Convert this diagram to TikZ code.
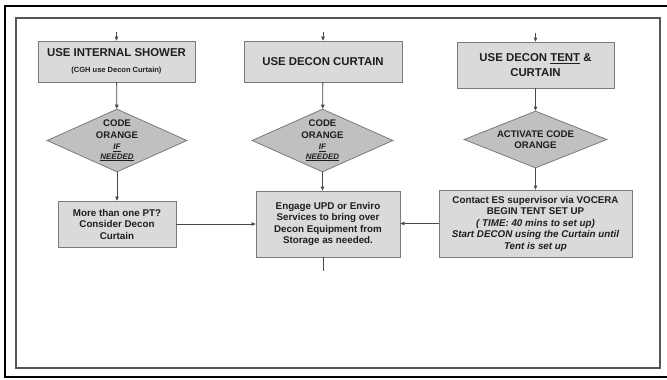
\documentclass[tikz,border=0pt]{standalone}
\usepackage{fontspec}
\setmainfont{Liberation Sans}
\usetikzlibrary{shapes.geometric,arrows.meta}
\definecolor{boxgray}{HTML}{DADADA}
\definecolor{diagray}{HTML}{C0C0C0}
\definecolor{edgegray}{HTML}{7A7A7A}
\definecolor{linegray}{HTML}{4A4A4A}
\definecolor{framegray}{HTML}{555555}
\definecolor{textdark}{HTML}{1E1E1E}
\newcommand\ifneeded[1]{{\bfseries\itshape\fontsize{8}{11.5}\selectfont\underline{#1}}}
\begin{document}
\begin{tikzpicture}[x=1pt,y=-1pt,
  box/.style={draw=edgegray, fill=boxgray, line width=0.8pt, align=center, inner sep=1pt,
    text=textdark, font=\bfseries\fontsize{9.8}{11.5}\selectfont},
  headbox/.style={box, font=\bfseries\fontsize{11.4}{15}\selectfont},
  decision/.style={diamond, draw=edgegray, fill=diagray, line width=0.8pt, align=center,
    inner sep=0pt, text=textdark, font=\bfseries\fontsize{9.6}{11.5}\selectfont},
  flow/.style={draw=linegray, line width=0.8pt, -{Triangle[length=4pt,width=3.6pt]}}]
  \useasboundingbox (0,0) rectangle (667,380);
  % Draw outer and inner frames
  \draw[line width=2.4pt] (5,6) rectangle (672,377);
  \draw[framegray, line width=1.2pt] (16,18) rectangle (660,368);
  % Draw the three heading boxes
  \node[headbox, minimum width=157, minimum height=41] (shower) at (116.5,61.5)
    {USE INTERNAL SHOWER\\[1pt]{\fontsize{7.5}{9}\selectfont (CGH use Decon Curtain)}};
  \node[headbox, minimum width=158, minimum height=41] (curtain) at (323,61.5) {USE DECON CURTAIN};
  \node[headbox, minimum width=157, minimum height=46] (tent) at (535.5,65)
    {USE DECON \underline{TENT} \&\\CURTAIN};
  \coordinate (in1) at (116.5,32);
  \coordinate (in2) at (323,32);
  \coordinate (in3) at (535.5,33);
  % Draw the decisions
  \node[decision, aspect=2.3, minimum width=140, minimum height=63] (orange1) at (117,140.5)
    {CODE\\ORANGE\\\ifneeded{IF}\\[-2pt]\ifneeded{NEEDED}};
  \node[decision, aspect=2.3, minimum width=141, minimum height=63] (orange2) at (322.5,140.5)
    {CODE\\ORANGE\\\ifneeded{IF}\\[-2pt]\ifneeded{NEEDED}};
  \node[decision, aspect=2.5, minimum width=143, minimum height=57] (orange3) at (535.5,139.5)
    {ACTIVATE CODE\\ORANGE};
  % Draw the action boxes
  \node[box, minimum width=118, minimum height=46] (morept) at (117,224)
    {More than one PT?\\Consider Decon\\Curtain};
  \node[box, minimum width=144, minimum height=66] (engage) at (328,224)
    {Engage UPD or Enviro\\Services to bring over\\Decon Equipment from\\Storage as needed.};
  \node[box, minimum width=193, minimum height=67] (contact) at (535.5,223.5)
    {Contact ES supervisor via VOCERA\\BEGIN TENT SET UP\\{\itshape ( TIME: 40 mins to set up)}\\
     {\itshape Start DECON using the Curtain until}\\{\itshape Tent is set up}};
  \coordinate (tail) at (323,271);
  % Draw the connectors
  \draw[flow] (in1) -- (shower);
  \draw[flow] (in2) -- (curtain);
  \draw[flow] (in3) -- (tent);
  \draw[flow] (shower) -- (orange1);
  \draw[flow] (curtain) -- (orange2);
  \draw[flow] (tent) -- (orange3);
  \draw[flow] (orange1) -- (morept);
  \draw[flow] (orange2.south) -- (orange2.south |- engage.north);
  \draw[flow] (orange3) -- (contact);
  \draw[flow] (morept.east) -- (engage.west |- morept.east);
  \draw[flow] (contact.west) -- (engage.east |- contact.west);
  \draw[linegray, line width=0.8pt] (tail |- engage.south) -- (tail);
\end{tikzpicture}
\end{document}
